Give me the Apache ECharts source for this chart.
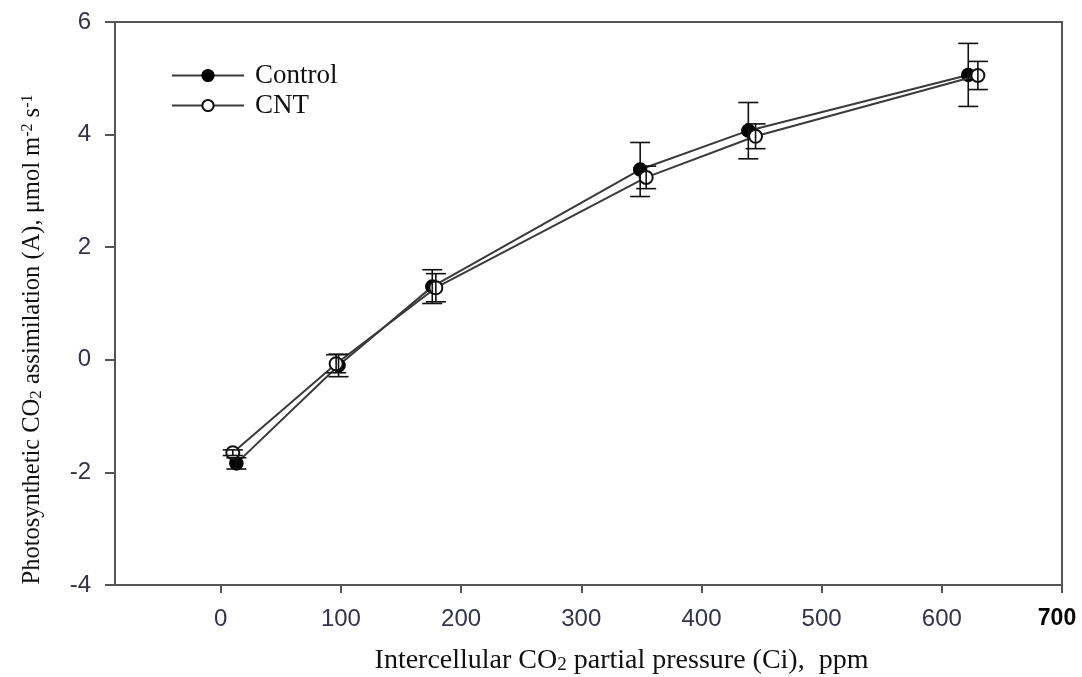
<!DOCTYPE html>
<html>
<head>
<meta charset="utf-8">
<script src="https://cdn.jsdelivr.net/npm/echarts@6/dist/echarts.min.js"></script>
<style>
  html, body { margin: 0; padding: 0; background: #fff; }
  #chart { width: 1082px; height: 677px; }
</style>
</head>
<body>
<div id="chart"></div>
<script>
// values
var ciControl = [13, 98, 176, 349, 439, 622];
var aControl  = [-1.84, -0.10, 1.30, 3.38, 4.07, 5.06];
var seControl = [0.10, 0.20, 0.30, 0.48, 0.50, 0.56];

var ciCNT = [10, 96, 179, 354, 445, 630];
var aCNT  = [-1.65, -0.07, 1.28, 3.24, 3.97, 5.05];
var seCNT = [0.05, 0.16, 0.25, 0.20, 0.22, 0.25];

var xTicks = [0, 100, 200, 300, 400, 500, 600, 700];
var yTicks = [-4, -2, 0, 2, 4, 6];

var seriesNames = ['Control', 'CNT'];

function pairs(xs, ys) {
  return xs.map(function (x, i) { return [x, ys[i]]; });
}
function bars(xs, ys, es) {
  return xs.map(function (x, i) { return [x, ys[i] - es[i], ys[i] + es[i]]; });
}

// error bar drawn with the axes' own scale
function errorBar(params, api) {
  var lo = api.coord([api.value(0), api.value(1)]);
  var hi = api.coord([api.value(0), api.value(2)]);
  var w = 10;
  var st = { stroke: '#111', lineWidth: 1.6 };
  return {
    type: 'group',
    children: [
      { type: 'line', shape: { x1: lo[0], y1: lo[1], x2: hi[0], y2: hi[1] }, style: st },
      { type: 'line', shape: { x1: lo[0] - w, y1: lo[1], x2: lo[0] + w, y2: lo[1] }, style: st },
      { type: 'line', shape: { x1: hi[0] - w, y1: hi[1], x2: hi[0] + w, y2: hi[1] }, style: st }
    ]
  };
}

var serif = '"Liberation Serif", "Times New Roman", serif';
var sans = '"Liberation Sans", Arial, sans-serif';

var myChart = echarts.init(document.getElementById('chart'));
myChart.setOption({
  animation: false,
  backgroundColor: '#fff',
  grid: {
    left: 115, right: 20, top: 22, bottom: 92,
    outerBoundsMode: 'none',
    containLabel: false,
    show: true, borderColor: '#555', borderWidth: 2, backgroundColor: 'transparent'
  },
  legend: {
    orient: 'vertical',
    left: 166, top: 57,
    itemWidth: 72, itemHeight: 14, itemGap: 3,
    data: seriesNames,
    textStyle: { fontFamily: serif, fontSize: 27, color: '#111', padding: [0, 0, 0, 6] }
  },
  xAxis: {
    type: 'value',
    min: -88, max: 700,
    splitLine: { show: false },
    axisLine: { onZero: false, lineStyle: { color: '#555', width: 2 } },
    axisTick: { customValues: xTicks, length: 8, lineStyle: { color: '#555', width: 2 } },
    axisLabel: {
      customValues: xTicks,
      margin: 22,
      fontFamily: sans, fontSize: 24, color: '#33334a',
      formatter: function (v) { return v === 700 ? '{b|700}' : String(v); },
      rich: { b: { fontFamily: sans, fontSize: 23, fontWeight: 'bold', color: '#000', padding: [0, 10, 12, 0] } }
    },
    name: 'Intercellular CO{sub|2} partial pressure (Ci),  ppm',
    nameLocation: 'middle',
    nameGap: 62,
    nameTextStyle: {
      fontFamily: serif, fontSize: 28, color: '#111', padding: [0, 0, 0, 66],
      rich: { sub: { fontFamily: serif, fontSize: 19, color: '#111', verticalAlign: 'bottom' } }
    }
  },
  yAxis: {
    type: 'value',
    min: -4, max: 6, interval: 2,
    splitLine: { show: false },
    axisLine: { onZero: false, lineStyle: { color: '#555', width: 2 } },
    axisTick: { length: 10, lineStyle: { color: '#555', width: 2 } },
    axisLabel: { margin: 24, fontFamily: sans, fontSize: 24, color: '#33334a' },
    name: 'Photosynthetic CO{sub|2} assimilation (A), μmol m{sup|-2} s{sup|-1}',
    nameLocation: 'middle',
    nameGap: 70,
    nameTextStyle: {
      fontFamily: serif, fontSize: 24.5, color: '#111', padding: [0, 72, 0, 0],
      rich: {
        sub: { fontFamily: serif, fontSize: 17, color: '#111', verticalAlign: 'bottom' },
        sup: { fontFamily: serif, fontSize: 16, color: '#111', verticalAlign: 'top' }
      }
    }
  },
  series: [
    {
      name: 'Control',
      type: 'line',
      data: pairs(ciControl, aControl),
      symbol: 'circle', symbolSize: 13,
      lineStyle: { color: '#3a3a3a', width: 2 },
      itemStyle: { color: '#000', borderColor: '#000', borderWidth: 1.5 },
      z: 3
    },
    {
      name: 'CNT',
      type: 'line',
      data: pairs(ciCNT, aCNT),
      symbol: 'circle', symbolSize: 13,
      lineStyle: { color: '#3a3a3a', width: 2 },
      itemStyle: { color: '#fff', borderColor: '#111', borderWidth: 2 },
      z: 4
    },
    {
      type: 'custom',
      renderItem: errorBar,
      data: bars(ciControl, aControl, seControl),
      z: 5
    },
    {
      type: 'custom',
      renderItem: errorBar,
      data: bars(ciCNT, aCNT, seCNT),
      z: 5
    }
  ]
});
</script>
</body>
</html>
